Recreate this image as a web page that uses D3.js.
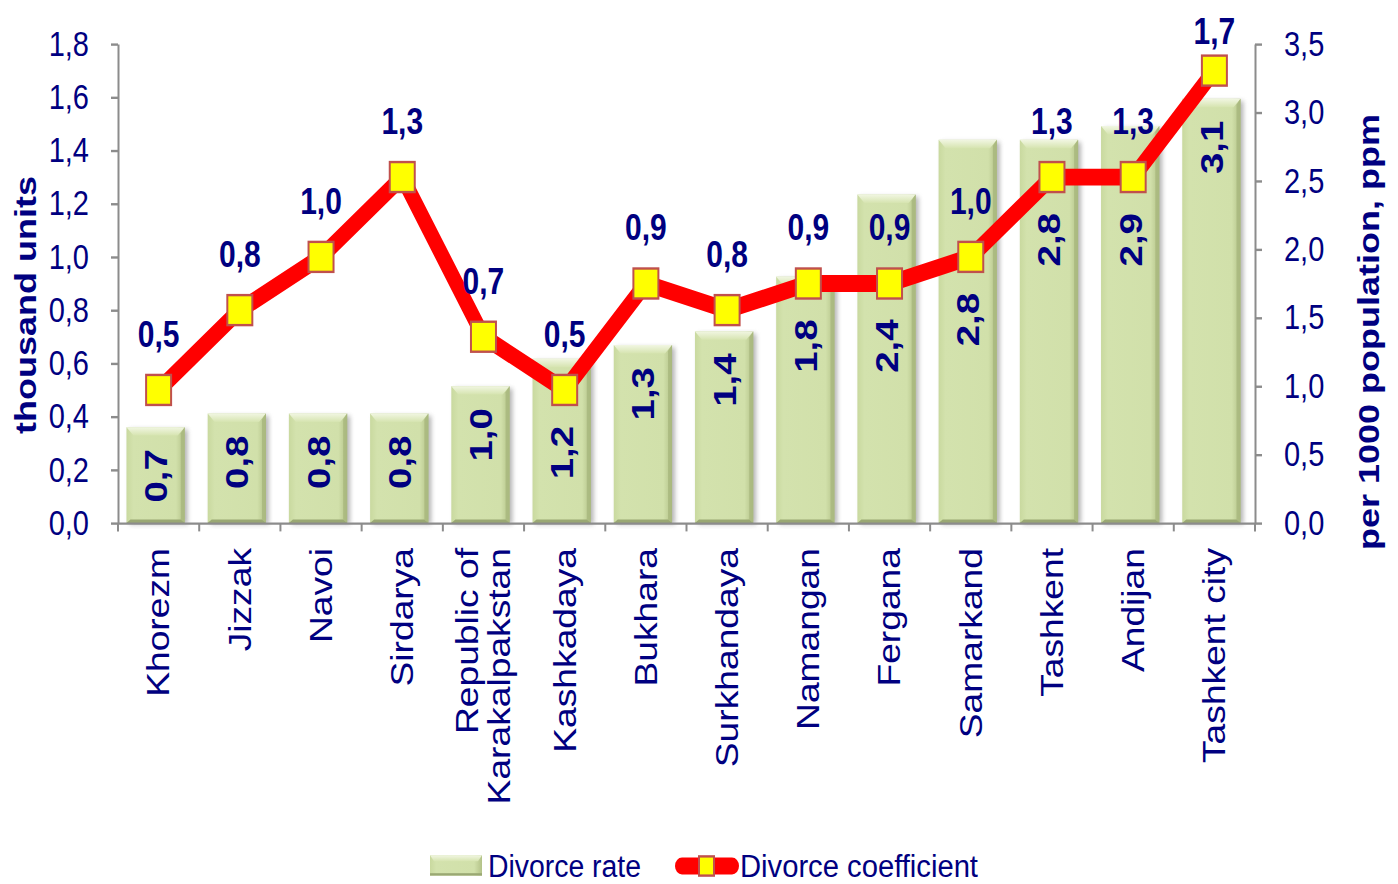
<!DOCTYPE html>
<html>
<head>
<meta charset="utf-8">
<script src="https://cdn.jsdelivr.net/npm/d3@7"></script>
<style>
  html, body { margin: 0; padding: 0; background: #fff; }
  svg { display: block; }
  text { font-family: "Liberation Sans", Arial, sans-serif; fill: #000080; }
</style>
</head>
<body>
<div id="chart"></div>
<script>
// data
var categories = ["Khorezm", "Jizzak", "Navoi", "Sirdarya", "Republic of\nKarakalpakstan", "Kashkadaya",
                  "Bukhara", "Surkhandaya", "Namangan", "Fergana", "Samarkand", "Tashkent", "Andijan", "Tashkent city"];
var divorceRate = [0.7, 0.8, 0.8, 0.8, 1.0, 1.2, 1.3, 1.4, 1.8, 2.4, 2.8, 2.8, 2.9, 3.1];   // right axis
var divorceCoef = [0.5, 0.8, 1.0, 1.3, 0.7, 0.5, 0.9, 0.8, 0.9, 0.9, 1.0, 1.3, 1.3, 1.7];   // left axis
var leftTicks = [0, 0.2, 0.4, 0.6, 0.8, 1.0, 1.2, 1.4, 1.6, 1.8];
var rightTicks = [0, 0.5, 1.0, 1.5, 2.0, 2.5, 3.0, 3.5];
var seriesNames = ["Divorce rate", "Divorce coefficient"];

// the picture is stretched vertically, so draw in a shorter box and let the svg stretch it
var W = 1398, H = 884, sy = 1.2, H0 = H / sy;
var fmt = function(d) { return d.toFixed(1).replace(".", ","); };

var svg = d3.select("#chart").append("svg")
    .attr("width", W).attr("height", H)
    .attr("viewBox", "0 0 " + W + " " + H0)
    .attr("preserveAspectRatio", "none");

var defs = svg.append("defs");
var g1 = defs.append("linearGradient").attr("id", "barFill").attr("x1", 0).attr("x2", 1).attr("y1", 0).attr("y2", 0);
g1.append("stop").attr("offset", "0%").attr("stop-color", "#c9d99f");
g1.append("stop").attr("offset", "12%").attr("stop-color", "#d3e2ad");
g1.append("stop").attr("offset", "85%").attr("stop-color", "#d1e0aa");
g1.append("stop").attr("offset", "100%").attr("stop-color", "#b3c288");
var g2 = defs.append("linearGradient").attr("id", "barTop").attr("x1", 0).attr("x2", 0).attr("y1", 0).attr("y2", 1);
g2.append("stop").attr("offset", "0%").attr("stop-color", "#f1f6e2");
g2.append("stop").attr("offset", "100%").attr("stop-color", "#d6e4b0");
defs.append("filter").attr("id", "blur").attr("x", "-20%").attr("y", "-20%").attr("width", "140%").attr("height", "140%")
  .append("feGaussianBlur").attr("stdDeviation", 2);

var plotLeft = 118, plotRight = 1255, plotTop = 44 / sy, plotBottom = 523 / sy;

var x = d3.scaleBand().domain(categories).range([plotLeft, plotRight]).paddingInner(0.27).paddingOuter(0.135);
var yL = d3.scaleLinear().domain([0, 1.8]).range([plotBottom, plotTop]);
var yR = d3.scaleLinear().domain([0, 3.5]).range([plotBottom, plotTop]);
var cx = function(i) { return x(categories[i]) + x.bandwidth() / 2; };

var data = categories.map(function(c, i) { return {name: c, rate: divorceRate[i], coef: divorceCoef[i], i: i}; });

// bars
var bw = x.bandwidth() - 1;
var bars = svg.append("g").selectAll("g").data(data).enter().append("g")
    .attr("transform", function(d) { return "translate(" + (cx(d.i) - bw / 2 - 3) + ",0)"; });
bars.append("rect")
    .attr("x", 3).attr("y", function(d) { return yR(d.rate) + 2; })
    .attr("width", bw).attr("height", function(d) { return plotBottom - yR(d.rate) - 1; })
    .attr("fill", "#7f7f7f").attr("opacity", 0.55).attr("filter", "url(#blur)");
bars.append("rect")
    .attr("x", 0).attr("y", function(d) { return yR(d.rate); })
    .attr("width", bw).attr("height", function(d) { return plotBottom - yR(d.rate); })
    .attr("fill", "url(#barFill)");
bars.append("path")
    .attr("d", function(d) {
      var t = yR(d.rate);
      return "M0," + t + "L" + bw + "," + t + "L" + (bw - 7) + "," + (t + 7) + "L7," + (t + 7) + "Z";
    })
    .attr("fill", "url(#barTop)");
bars.append("path")
    .attr("d", function(d) {
      var t = yR(d.rate);
      return "M" + bw + "," + t + "L" + bw + "," + plotBottom + "L" + (bw - 4) + "," + (plotBottom - 3) + "L" + (bw - 4) + "," + (t + 5) + "Z";
    })
    .attr("fill", "#a7b67d").attr("opacity", 0.8);
bars.append("path")
    .attr("d", function() {
      return "M0," + plotBottom + "L" + bw + "," + plotBottom + "L" + (bw - 4) + "," + (plotBottom - 3) + "L4," + (plotBottom - 3) + "Z";
    })
    .attr("fill", "#9aa873");

// axes
var axisColor = "#8c8c8c";
var ax = svg.append("g").attr("transform", "translate(" + plotLeft + ",0)")
    .call(d3.axisLeft(yL).tickValues(leftTicks).tickFormat(fmt).tickSize(7).tickSizeOuter(0).tickPadding(22));
var axR = svg.append("g").attr("transform", "translate(" + plotRight + ",0)")
    .call(d3.axisRight(yR).tickValues(rightTicks).tickFormat(fmt).tickSize(7).tickSizeOuter(0).tickPadding(22));
[ax, axR].forEach(function(a) {
  a.select(".domain").attr("stroke", axisColor).attr("stroke-width", 2);
  a.selectAll(".tick line").attr("stroke", axisColor).attr("stroke-width", 2);
  a.selectAll(".tick text").attr("font-size", 29).attr("fill", "#000080")
    .attr("font-family", "'Liberation Sans', Arial, sans-serif");
});

var axB = svg.append("g").attr("transform", "translate(0," + plotBottom + ")")
    .call(d3.axisBottom(x).tickSize(0).tickFormat(""));
axB.select(".domain").attr("stroke", axisColor).attr("stroke-width", 2);
var bounds = d3.range(categories.length + 1).map(function(i) { return plotLeft + x.step() * x.paddingOuter() - x.step() * x.paddingInner() / 2 + i * x.step(); });
axB.selectAll("line.sep").data(bounds).enter().append("line").attr("class", "sep")
    .attr("x1", function(d) { return d; }).attr("x2", function(d) { return d; })
    .attr("y1", 0).attr("y2", 7).attr("stroke", axisColor).attr("stroke-width", 2);

// category labels, rotated
var catLab = svg.append("g").selectAll("text").data(data).enter().append("text")
    .attr("transform", function(d) { return "translate(" + cx(d.i) + "," + (548 / sy) + ") rotate(-90)"; })
    .attr("text-anchor", "end").attr("font-size", 31);
catLab.each(function(d) {
  var lines = d.name.split("\n");
  var t = d3.select(this);
  lines.forEach(function(l, k) {
    t.append("tspan").attr("x", 0)
      .attr("dy", k === 0 ? (0.35 - (lines.length - 1) * 0.52) + "em" : "1.04em")
      .text(l);
  });
});

// line
var line = d3.line().x(function(d) { return cx(d.i); }).y(function(d) { return yL(d.coef); });
svg.append("path").datum(data).attr("d", line)
    .attr("fill", "none").attr("stroke", "#ff0000").attr("stroke-width", 14).attr("stroke-linejoin", "miter");
var ms = 25;
svg.append("g").selectAll("rect").data(data).enter().append("rect")
    .attr("x", function(d) { return cx(d.i) - ms / 2; })
    .attr("y", function(d) { return yL(d.coef) - ms / 2; })
    .attr("width", ms).attr("height", ms)
    .attr("fill", "#ffff00").attr("stroke", "#c0504d").attr("stroke-width", 2);

// bar value labels (inside the bar, kept below the marker)
svg.append("g").selectAll("text").data(data).enter().append("text")
    .attr("transform", function(d) {
      var t = Math.max(yR(d.rate) + 22 / sy, yL(d.coef) + 36 / sy);
      return "translate(" + (cx(d.i) - 3) + "," + t + ") rotate(-90)";
    })
    .attr("text-anchor", "end").attr("dy", "0.36em")
    .attr("font-size", 32).attr("font-weight", "bold")
    .text(function(d) { return fmt(d.rate); });

// line value labels (kept inside the top edge)
svg.append("g").selectAll("text").data(data).enter().append("text")
    .attr("x", function(d) { return cx(d.i); })
    .attr("y", function(d) { return Math.max(yL(d.coef) - 36, 37); })
    .attr("text-anchor", "middle")
    .attr("font-size", 30).attr("font-weight", "bold")
    .text(function(d) { return fmt(d.coef); });

// axis titles
svg.append("text")
    .attr("transform", "translate(25," + (305 / sy) + ") rotate(-90)")
    .attr("text-anchor", "middle").attr("dy", "0.35em")
    .attr("font-size", 30).attr("font-weight", "bold")
    .text("thousand units");
svg.append("text")
    .attr("transform", "translate(1368," + (332 / sy) + ") rotate(-90)")
    .attr("text-anchor", "middle").attr("dy", "0.35em")
    .attr("font-size", 30).attr("font-weight", "bold")
    .text("per 1000 population, ppm");

// legend
var ly = 866 / sy;
var leg = svg.append("g");
leg.append("rect").attr("x", 430).attr("y", ly - 9).attr("width", 52).attr("height", 17).attr("fill", "url(#barFill)");
leg.append("path").attr("d", "M430," + (ly - 9) + "L482," + (ly - 9) + "L478," + (ly - 4) + "L434," + (ly - 4) + "Z").attr("fill", "url(#barTop)");
leg.append("rect").attr("x", 430).attr("y", ly + 6).attr("width", 52).attr("height", 2).attr("fill", "#9aa873");
leg.append("text").attr("x", 488).attr("y", ly).attr("dy", "0.35em").attr("font-size", 26)
    .attr("textLength", 153).attr("lengthAdjust", "spacingAndGlyphs").text(seriesNames[0]);
leg.append("line").attr("x1", 682).attr("x2", 732).attr("y1", ly).attr("y2", ly)
    .attr("stroke", "#ff0000").attr("stroke-width", 14).attr("stroke-linecap", "round");
leg.append("rect").attr("x", 699).attr("y", ly - 8).attr("width", 15).attr("height", 16)
    .attr("fill", "#ffff00").attr("stroke", "#c0504d").attr("stroke-width", 2);
leg.append("text").attr("x", 740).attr("y", ly).attr("dy", "0.35em").attr("font-size", 26)
    .attr("textLength", 238).attr("lengthAdjust", "spacingAndGlyphs").text(seriesNames[1]);
</script>
</body>
</html>
